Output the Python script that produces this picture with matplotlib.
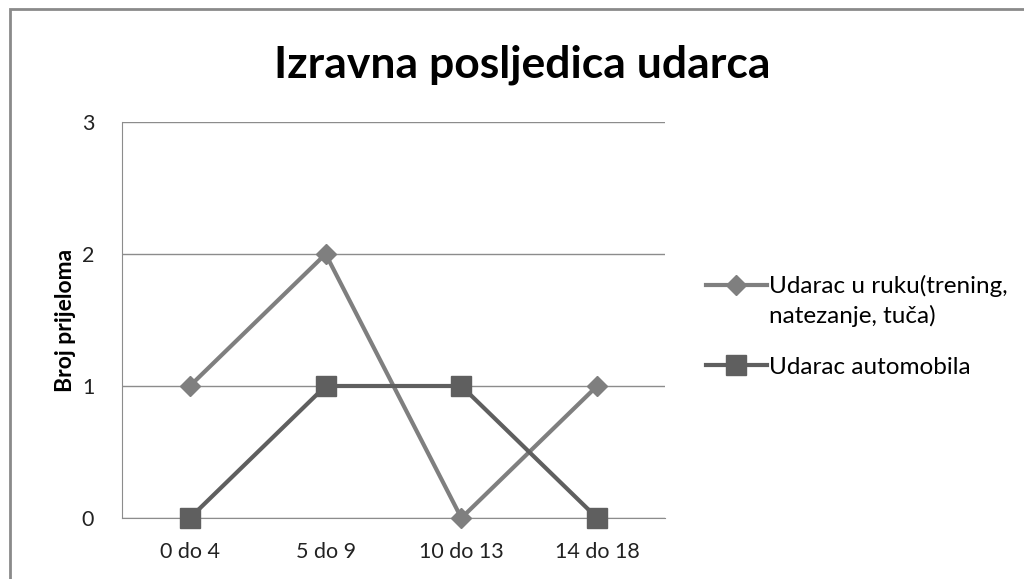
import matplotlib
matplotlib.use("Agg")
from matplotlib import pyplot as plt
from matplotlib.patches import Rectangle

categories = ["0 do 4", "5 do 9", "10 do 13", "14 do 18"]
ruka = [1, 2, 0, 1]
automobil = [0, 1, 1, 0]
labels = ["Udarac u ruku(trening,", "Udarac automobila"]
label_cont = "natezanje, tuča)"

plt.rcParams["font.family"] = ["Lato", "DejaVu Sans"]

fig = plt.figure(figsize=(10.24, 5.79), dpi=100)
ax = fig.add_axes([122 / 1024, 61 / 579, 543 / 1024, 396 / 579])

x = range(len(categories))
ax.plot(x, ruka, color="#7f7f7f", lw=3, marker="D", ms=10.5, label=labels[0],
        zorder=3, clip_on=False)
ax.plot(x, automobil, color="#5f5f5f", lw=3, marker="s", ms=14, label=labels[1],
        zorder=3, clip_on=False)

ax.set_xlim(-0.5, 3.5)
ax.set_ylim(0, 3)
ax.set_yticks([0, 1, 2, 3])
ax.set_xticks(list(x))
ax.set_xticklabels(categories)
ax.tick_params(length=0, labelsize=15.5, colors="#222222", pad=17)
ax.tick_params(axis="y", pad=20)
ax.grid(axis="y", color="#8c8c8c", lw=1)
ax.set_axisbelow(True)
for side in ("top", "right"):
    ax.spines[side].set_visible(False)
for side in ("left", "bottom"):
    ax.spines[side].set_color("#8c8c8c")
ax.set_ylabel("Broj prijeloma", fontsize=16.5, fontweight="bold")
ax.yaxis.set_label_coords(-0.085, 0.5)

fig.text(0.51, 1 - 65 / 579, "Izravna posljedica udarca", fontsize=32,
         fontweight="bold", ha="center", va="center")

leg = fig.legend(loc="upper left", bbox_to_anchor=(706 / 1024, 1 - 275 / 579),
                 frameon=False, fontsize=17.5, handlelength=2.5, handletextpad=0.1,
                 labelspacing=2.45, borderaxespad=0, borderpad=0)
# second line of the first legend entry
fig.text(769 / 1024, 1 - 316 / 579, label_cont, fontsize=17.5, ha="left", va="center")

fig.patches.append(Rectangle((10 / 1024, -0.1), 1.2, 1.1 - 9 / 579, transform=fig.transFigure,
                             fill=False, edgecolor="#8a8a8a", lw=2))

fig.savefig("out.png", dpi=100)
